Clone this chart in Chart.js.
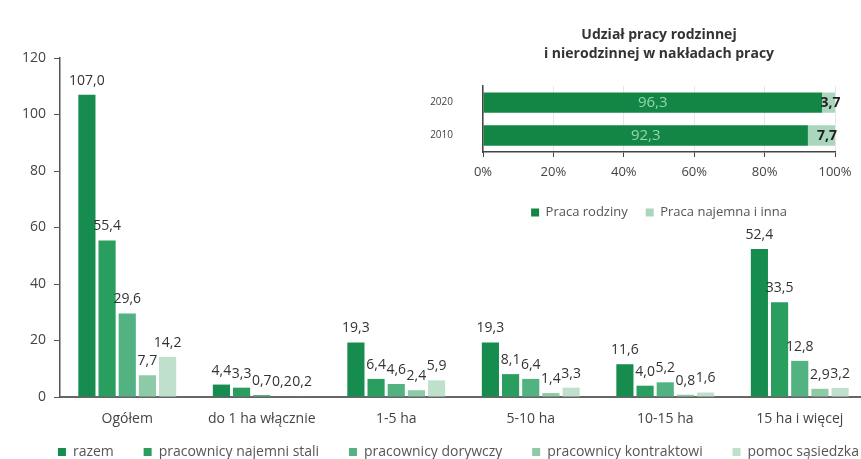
<!DOCTYPE html>
<html>
<head>
<meta charset="utf-8">
<script src="https://cdn.jsdelivr.net/npm/chart.js@4"></script>
<style>
  html, body { margin: 0; padding: 0; background: #fff; overflow: hidden; }
  #wrap { position: relative; width: 861px; height: 459px; overflow: hidden; }
  #main { position: absolute; left: 0; top: 0; }
  #inset { position: absolute; left: 420px; top: 0; }
</style>
</head>
<body>
<div id="wrap">
  <canvas id="main" width="880" height="459"></canvas>
  <canvas id="inset" width="441" height="230"></canvas>
</div>
<script>
// main chart data
var categories = ["Ogółem", "do 1 ha włącznie", "1-5 ha", "5-10 ha", "10-15 ha", "15 ha i więcej"];
var razem = [107.0, 4.4, 19.3, 19.3, 11.6, 52.4];
var najemniStali = [55.4, 3.3, 6.4, 8.1, 4.0, 33.5];
var dorywczy = [29.6, 0.7, 4.6, 6.4, 5.2, 12.8];
var kontraktowi = [7.7, 0.2, 2.4, 1.4, 0.8, 2.9];
var pomocSasiedzka = [14.2, 0.2, 5.9, 3.3, 1.6, 3.2];
var yTicks = [0, 20, 40, 60, 80, 100, 120];

// inset data
var insetYears = ["2020", "2010"];
var pracaRodziny = [96.3, 92.3];
var pracaNajemna = [3.7, 7.7];
var insetTicks = [0, 20, 40, 60, 80, 100];

Chart.defaults.font.family = "'Open Sans', sans-serif";
Chart.defaults.color = "#444";
Chart.defaults.animation = false;

function fmt(v) { return v.toFixed(1).replace(".", ","); }

var barLabels = {
  id: "barLabels",
  afterDatasetsDraw: function (chart) {
    var c = chart.ctx;
    c.save();
    c.font = "14px 'Open Sans', sans-serif";
    c.fillStyle = "#333";
    c.textAlign = "center";
    c.textBaseline = "bottom";
    chart.data.datasets.forEach(function (ds, i) {
      chart.getDatasetMeta(i).data.forEach(function (el, j) {
        c.fillText(fmt(ds.data[j]), el.x, el.y - 7);
      });
    });
    c.restore();
  }
};

var ctx = document.getElementById("main").getContext("2d");
var mainChart = new Chart(ctx, {
  type: "bar",
  data: {
    labels: categories,
    datasets: [
      { label: "razem", data: razem, backgroundColor: "#178c4f" },
      { label: "pracownicy najemni stali", data: najemniStali, backgroundColor: "#2a9e5f" },
      { label: "pracownicy dorywczy", data: dorywczy, backgroundColor: "#52b282" },
      { label: "pracownicy kontraktowi", data: kontraktowi, backgroundColor: "#8fcaa7" },
      { label: "pomoc sąsiedzka", data: pomocSasiedzka, backgroundColor: "#bfe1cc" }
    ]
  },
  options: {
    responsive: false,
    categoryPercentage: 0.75,
    barPercentage: 0.85,
    layout: { padding: { top: 58, left: 18, right: 13, bottom: -10 } },
    plugins: {
      legend: {
        position: "bottom",
        align: "end",
        labels: {
          boxWidth: 8, boxHeight: 8, padding: 8, font: { size: 14 }, color: "#555",
          generateLabels: function (chart) {
            var items = Chart.defaults.plugins.legend.labels.generateLabels(chart);
            items.forEach(function (it, i) {
              if (i < items.length - 1) it.text += "\u00a0\u00a0\u00a0\u00a0\u00a0\u00a0";
            });
            return items;
          }
        }
      },
      tooltip: { enabled: false }
    },
    scales: {
      x: {
        grid: { display: false, drawTicks: false },
        border: { color: "#666", width: 2 },
        ticks: { font: { size: 14 }, color: "#444", padding: 14 },
        afterFit: function (axis) { axis.height = 40; }
      },
      y: {
        min: 0, max: 120,
        afterBuildTicks: function (axis) { axis.ticks = yTicks.map(function (v) { return { value: v }; }); },
        grid: { drawOnChartArea: false, drawTicks: true, tickLength: 6, tickColor: "#555" },
        border: { color: "#555", width: 1.5 },
        ticks: { font: { size: 14 }, color: "#444", padding: 8 },
        afterFit: function (axis) { axis.width = 42; }
      }
    }
  },
  plugins: [barLabels]
});

var insetLabels = {
  id: "insetLabels",
  afterDatasetsDraw: function (chart) {
    var c = chart.ctx;
    c.save();
    c.textAlign = "center";
    c.textBaseline = "middle";
    chart.getDatasetMeta(0).data.forEach(function (el, j) {
      c.font = "15px 'Open Sans', sans-serif";
      c.fillStyle = "#93d6ae";
      c.fillText(fmt(pracaRodziny[j]), (el.base + el.x) / 2, el.y);
    });
    chart.getDatasetMeta(1).data.forEach(function (el, j) {
      c.font = "bold 14px 'Open Sans', sans-serif";
      c.fillStyle = "#222";
      c.fillText(fmt(pracaNajemna[j]), Math.max((el.base + el.x) / 2 + 2, el.x - 8), el.y);
    });
    c.restore();
  }
};

var ctx2 = document.getElementById("inset").getContext("2d");
var insetChart = new Chart(ctx2, {
  type: "bar",
  data: {
    labels: insetYears,
    datasets: [
      { label: "Praca rodziny", data: pracaRodziny, backgroundColor: "#138646" },
      { label: "Praca najemna i inna", data: pracaNajemna, backgroundColor: "#a9d6bc" }
    ]
  },
  options: {
    responsive: false,
    indexAxis: "y",
    categoryPercentage: 1,
    barPercentage: 0.62,
    layout: { padding: { top: 25, left: 8, right: 26, bottom: 1 } },
    plugins: {
      title: {
        display: true,
        fullSize: false,
        text: ["Udział pracy rodzinnej", "i nierodzinnej w nakładach pracy"],
        font: { size: 14, weight: "bold", lineHeight: 1.4 },
        color: "#333",
        padding: { top: 0, bottom: 22 }
      },
      legend: {
        position: "bottom",
        fullSize: false,
        labels: { boxWidth: 8, boxHeight: 8, padding: 18, font: { size: 13 }, color: "#555" }
      },
      tooltip: { enabled: false }
    },
    scales: {
      x: {
        stacked: true,
        min: 0, max: 100,
        afterBuildTicks: function (axis) { axis.ticks = insetTicks.map(function (v) { return { value: v }; }); },
        grid: { color: "#e6e6e6", tickColor: "#444", tickLength: 5 },
        border: { color: "#444", width: 1.5 },
        ticks: { font: { size: 13 }, color: "#444", padding: 7, callback: function (v) { return v + "%"; } },
        afterFit: function (axis) { axis.height = 36; }
      },
      y: {
        stacked: true,
        grid: { display: false, drawTicks: false },
        border: { color: "#444", width: 1.5 },
        ticks: { font: { size: 10 }, color: "#444", padding: 30 },
        afterFit: function (axis) { axis.width = 55; }
      }
    }
  },
  plugins: [insetLabels]
});
</script>
</body>
</html>
